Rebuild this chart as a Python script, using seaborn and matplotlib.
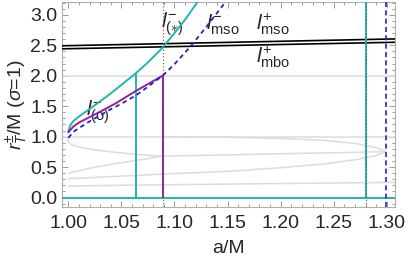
import numpy as np
import pandas as pd
import seaborn as sns
import matplotlib
matplotlib.use('Agg')
import matplotlib.pyplot as plt
from matplotlib.ticker import MultipleLocator

# special spin values (a/M)
a_o = 1.0636
a_star = 1.0888
a_right = 1.280
a_mso = 1.299

# teal curve  l^-_(*)
a_teal = [1.000, 1.002, 1.005, 1.010, 1.019, 1.030, 1.040, 1.050, 1.0636, 1.075, 1.0888, 1.100, 1.110, 1.122, 1.126]
r_teal = [1.09, 1.19, 1.26, 1.33, 1.44, 1.58, 1.71, 1.85, 2.04, 2.22, 2.46, 2.70, 2.92, 3.22, 3.32]

# purple curve  l^-_(o)
a_purple = [1.000, 1.005, 1.010, 1.020, 1.030, 1.045, 1.0636, 1.0888]
r_purple = [1.07, 1.17, 1.23, 1.32, 1.41, 1.55, 1.75, 2.00]

# blue dashed curve  l^-_mso
a_blue = [1.000, 1.005, 1.010, 1.020, 1.030, 1.040, 1.050, 1.064, 1.075, 1.0888, 1.100, 1.116, 1.129, 1.148, 1.152]
r_blue = [0.98, 1.08, 1.14, 1.25, 1.35, 1.45, 1.54, 1.68, 1.82, 2.00, 2.19, 2.50, 2.78, 3.21, 3.31]

# black lines  l^+_mso, l^+_mbo
a_black = [0.99, 1.31]
r_mso_plus = [2.49, 2.605]
r_mbo_plus = [2.44, 2.55]

# light gray curves
a_loop1 = [1.0, 0.9995, 1.0005, 1.004, 1.012, 1.024, 1.040, 1.055, 1.070, 1.0888,
           1.070, 1.055, 1.040, 1.024, 1.012, 1.0]
r_loop1 = [1.0, 0.95, 0.90, 0.86, 0.82, 0.785, 0.75, 0.725, 0.70, 0.68,
           0.625, 0.585, 0.545, 0.495, 0.45, 0.40]
a_loop2 = [1.0888, 1.15, 1.20, 1.24, 1.27, 1.29, 1.299]
r_loop2 = [1.0, 0.99, 0.97, 0.94, 0.89, 0.82, 0.755]
a_mid = [1.0888, 1.15, 1.20, 1.25, 1.299]
r_mid = [0.68, 0.70, 0.72, 0.735, 0.755]
a_low = [1.0, 1.0888, 1.15, 1.20, 1.24, 1.27, 1.29, 1.299]
r_low = [0.31, 0.385, 0.43, 0.49, 0.55, 0.62, 0.69, 0.755]
a_base = [1.0, 1.0888, 1.31]
r_base = [0.19, 0.21, 0.25]
grid_r = [1.0, 2.0]

teal = '#1fb5b1'
purple = '#961ea0'
blue = '#2323c8'
gray = '#dcdcdc'

sns.set_theme(style="ticks")
plt.rcParams['font.family'] = ['Liberation Sans', 'DejaVu Sans']
plt.rcParams['mathtext.fontset'] = 'custom'
plt.rcParams['mathtext.rm'] = 'Liberation Sans'
plt.rcParams['mathtext.it'] = 'Liberation Sans:italic'
plt.rcParams['mathtext.bf'] = 'Liberation Sans:bold'

fig = plt.figure(figsize=(4.09, 2.61), dpi=100)
ax = fig.add_axes([61.7 / 409, 1 - 206.7 / 261, (395 - 61.7) / 409, (206.7 - 2) / 261])

# background gray structure
for r in grid_r:
    ax.axhline(r, color=gray, lw=1.1, zorder=1)
for xs, ys in [(a_loop1, r_loop1), (a_loop2, r_loop2), (a_mid, r_mid), (a_low, r_low), (a_base, r_base)]:
    sns.lineplot(x=xs, y=ys, sort=False, estimator=None, color=gray, lw=1.1, ax=ax, zorder=1)

# black l^+ lines
sns.lineplot(x=a_black, y=r_mso_plus, color='black', lw=1.2, ax=ax, zorder=3)
sns.lineplot(x=a_black, y=r_mbo_plus, color='black', lw=1.2, ax=ax, zorder=3)

# verticals
ax.axhline(0, color=teal, lw=1.4, zorder=3)
ax.vlines(a_o, 0, r_teal[a_teal.index(a_o)], color=teal, lw=1.4, zorder=3)
ax.vlines(a_right, 0, 3.4, color=teal, lw=1.4, zorder=3)
ax.vlines(a_star, 0, r_purple[-1], color=purple, lw=1.4, zorder=3)
ax.axvline(a_mso, color=blue, lw=1.2, ls=(0, (3, 2)), zorder=4)
for a in [a_star, a_right]:
    ax.axvline(a, color='#555555', lw=0.8, ls=(0, (1, 2)), zorder=5)

# curves
sns.lineplot(x=a_teal, y=r_teal, color=teal, lw=1.4, ax=ax, zorder=4)
sns.lineplot(x=a_purple, y=r_purple, color=purple, lw=1.4, ax=ax, zorder=4)
sns.lineplot(x=a_blue, y=r_blue, color=blue, lw=1.3, ls=(0, (2.5, 2)), ax=ax, zorder=4)

# labels on curves
fs = 15
ax.text(1.0875, 2.84, r"$l^{-}_{(\ast)}$", fontsize=fs, va='center', ha='left')
ax.text(1.130, 2.84, r"$l^{-}_{\mathrm{mso}}$", fontsize=fs, va='center', ha='left')
ax.text(1.177, 2.84, r"$l^{+}_{\mathrm{mso}}$", fontsize=fs, va='center', ha='left')
ax.text(1.177, 2.30, r"$l^{+}_{\mathrm{mbo}}$", fontsize=fs, va='center', ha='left')
ax.text(1.017, 1.40, r"$l^{-}_{(\mathrm{o})}$", fontsize=fs, va='center', ha='left')

ax.set_xlim(0.9938, 1.3076)
ax.set_ylim(-0.15, 3.21)
ax.xaxis.set_major_locator(MultipleLocator(0.05))
ax.xaxis.set_minor_locator(MultipleLocator(0.01))
ax.yaxis.set_major_locator(MultipleLocator(0.5))
ax.yaxis.set_minor_locator(MultipleLocator(0.1))
ax.xaxis.set_major_formatter(plt.FormatStrFormatter('%.2f'))
ax.yaxis.set_major_formatter(plt.FormatStrFormatter('%.1f'))
ax.tick_params(which='both', direction='in', top=True, right=True, color='#9a9a9a', width=0.7)
ax.tick_params(which='major', length=4, labelsize=14)
ax.tick_params(axis='x', which='major', pad=6)
ax.tick_params(axis='y', which='major', pad=3)
ax.tick_params(which='minor', length=2)
for s in ax.spines.values():
    s.set_color('#b0b0b0')
    s.set_linewidth(0.8)

ax.set_xlabel("a/M", fontsize=14, labelpad=6)
ax.set_ylabel(r"$r_T^{\pm}$/M ($\sigma$=1)", fontsize=14, labelpad=0)

fig.savefig("out.png", dpi=100)
